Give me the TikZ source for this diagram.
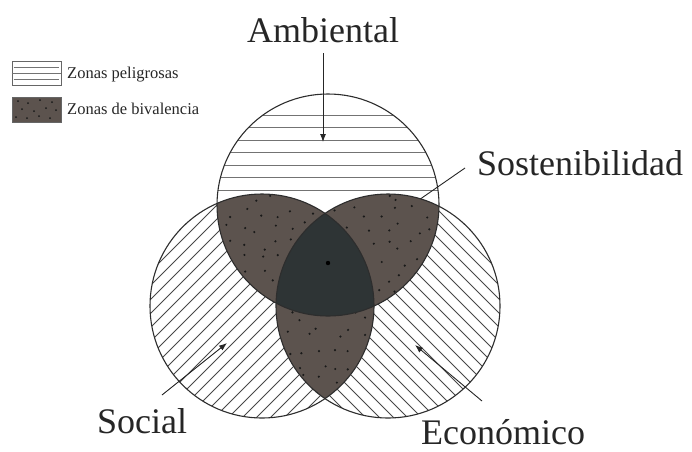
\documentclass[tikz,border=0pt]{standalone}
\usepackage{fontspec}
\setmainfont{Liberation Serif}
\usetikzlibrary{arrows.meta}
\definecolor{bivbrown}{RGB}{92,83,78}
\definecolor{centerdark}{RGB}{46,52,53}
\definecolor{hatchgray}{RGB}{115,115,115}
\definecolor{outline}{RGB}{45,45,45}
\tikzset{
  bigtext/.style={font=\fontsize{36}{40}\selectfont, text=black!85, inner sep=0pt},
  legtext/.style={font=\fontsize{16.5}{18}\selectfont, text=black!85, inner sep=0pt, anchor=base west},
  hatchtop/.style={draw=hatchgray, line width=1pt},
  hatchdiag/.style={draw=black!72, line width=0.85pt},
  ring/.style={draw=outline, line width=1.1pt},
  pointer/.style={draw=black!85, line width=0.9pt, -{Latex[length=8pt,width=6pt]}},
  dotmark/.style={fill=black!90},
}
\begin{document}
\begin{tikzpicture}[x=1pt,y=1pt]
\useasboundingbox (0,0) rectangle (692,-451);
\coordinate (T) at (328,-205);
\coordinate (L) at (262,-306);
\coordinate (R) at (388,-306);

% hatching of the left circle
\begin{scope}
  \clip (L) circle[radius=112pt];
  \foreach \c in {-800,-786,...,-330} \draw[hatchdiag] (140,{140+\c}) -- (380,{380+\c});
\end{scope}
% hatching of the right circle
\begin{scope}
  \clip (R) circle[radius=112pt];
  \foreach \c in {-150,-136,...,320} \draw[hatchdiag] (270,{-270+\c}) -- (510,{-510+\c});
\end{scope}
% hatching of the top circle
\begin{scope}
  \clip (T) circle[radius=111pt];
  \foreach \y in {115,127.5,140,152.5,165,177.5,190} \draw[hatchtop] (210,-\y) -- (450,-\y);
\end{scope}

% Sostenibilidad pointer (partly hidden by the fills)
\coordinate (sos-s) at (465,-168);
\coordinate (sos-e) at (328,-263);
\draw[pointer] (sos-s) -- (sos-e);

% pairwise intersections
\begin{scope}
  \clip (T) circle[radius=111pt];
  \fill[bivbrown] (L) circle[radius=112pt];
  \fill[bivbrown] (R) circle[radius=112pt];
\end{scope}
\begin{scope}
  \clip (L) circle[radius=112pt];
  \fill[bivbrown] (R) circle[radius=112pt];
\end{scope}

% dots
\pgfmathsetseed{11}
\begin{scope}
  \clip (T) circle[radius=111pt];
  \clip (L) circle[radius=112pt];
  \foreach \x in {212,228,...,330} \foreach \y in {196,212,...,320}
    \fill[dotmark] ({\x+rand*6},{-\y+rand*6}) circle[radius=1.2pt];
\end{scope}
\begin{scope}
  \clip (T) circle[radius=111pt];
  \clip (R) circle[radius=112pt];
  \foreach \x in {320,336,...,444} \foreach \y in {196,212,...,320}
    \fill[dotmark] ({\x+rand*6},{-\y+rand*6}) circle[radius=1.2pt];
\end{scope}
\begin{scope}
  \clip (L) circle[radius=112pt];
  \clip (R) circle[radius=112pt];
  \foreach \x in {272,288,...,380} \foreach \y in {300,316,...,400}
    \fill[dotmark] ({\x+rand*6},{-\y+rand*6}) circle[radius=1.2pt];
\end{scope}

% triple intersection
\begin{scope}
  \clip (T) circle[radius=111pt];
  \clip (L) circle[radius=112pt];
  \fill[centerdark] (R) circle[radius=112pt];
\end{scope}
\fill[black] (sos-e) circle[radius=2.2pt];

% outlines
\draw[ring] (T) circle[radius=111pt];
\draw[ring] (L) circle[radius=112pt];
\draw[ring] (R) circle[radius=112pt];

% labels
\node[bigtext, anchor=base] (amb) at (323,-42) {Ambiental};
\node[bigtext, anchor=base] (sos) at (580,-175) {Sostenibilidad};
\node[bigtext, anchor=base] (soc) at (142,-433) {Social};
\node[bigtext, anchor=base] (eco) at (503,-444) {Económico};

% pointers
\coordinate (amb-s) at (323,-53);
\coordinate (amb-e) at (323,-142);
\draw[pointer] (amb-s) -- (amb-e);
\coordinate (soc-s) at (162,-395);
\coordinate (soc-e) at (227,-343);
\draw[pointer] (soc-s) -- (soc-e);
\coordinate (eco-s) at (482,-401);
\coordinate (eco-e) at (415,-345);
\draw[pointer] (eco-s) -- (eco-e);

% legend
\node[draw=black!60, line width=0.9pt, minimum width=49pt, minimum height=24pt, inner sep=0pt] (leg1) at (36.5,-73) {};
\draw[hatchgray, line width=0.8pt] ([xshift=2pt,yshift=6pt]leg1.west) -- ([xshift=-2pt,yshift=6pt]leg1.east);
\draw[hatchgray, line width=0.8pt] (leg1.west) -- (leg1.east);
\draw[hatchgray, line width=0.8pt] ([xshift=2pt,yshift=-6pt]leg1.west) -- ([xshift=-2pt,yshift=-6pt]leg1.east);
\node[fill=bivbrown, draw=black!60, line width=0.6pt, minimum width=49pt, minimum height=25pt, inner sep=0pt] (leg2) at (36.5,-109.5) {};
\foreach \x/\y in {18/-101,28/-103,40/-100,52/-102,22/-109,34/-111,46/-108,56/-110,16/-117,27/-118,39/-116,50/-118}
  \fill[dotmark] (\x,\y) circle[radius=1pt];
\node[legtext] (leg1t) at (67,-78) {Zonas peligrosas};
\node[legtext] (leg2t) at (67,-114) {Zonas de bivalencia};
\end{tikzpicture}
\end{document}
